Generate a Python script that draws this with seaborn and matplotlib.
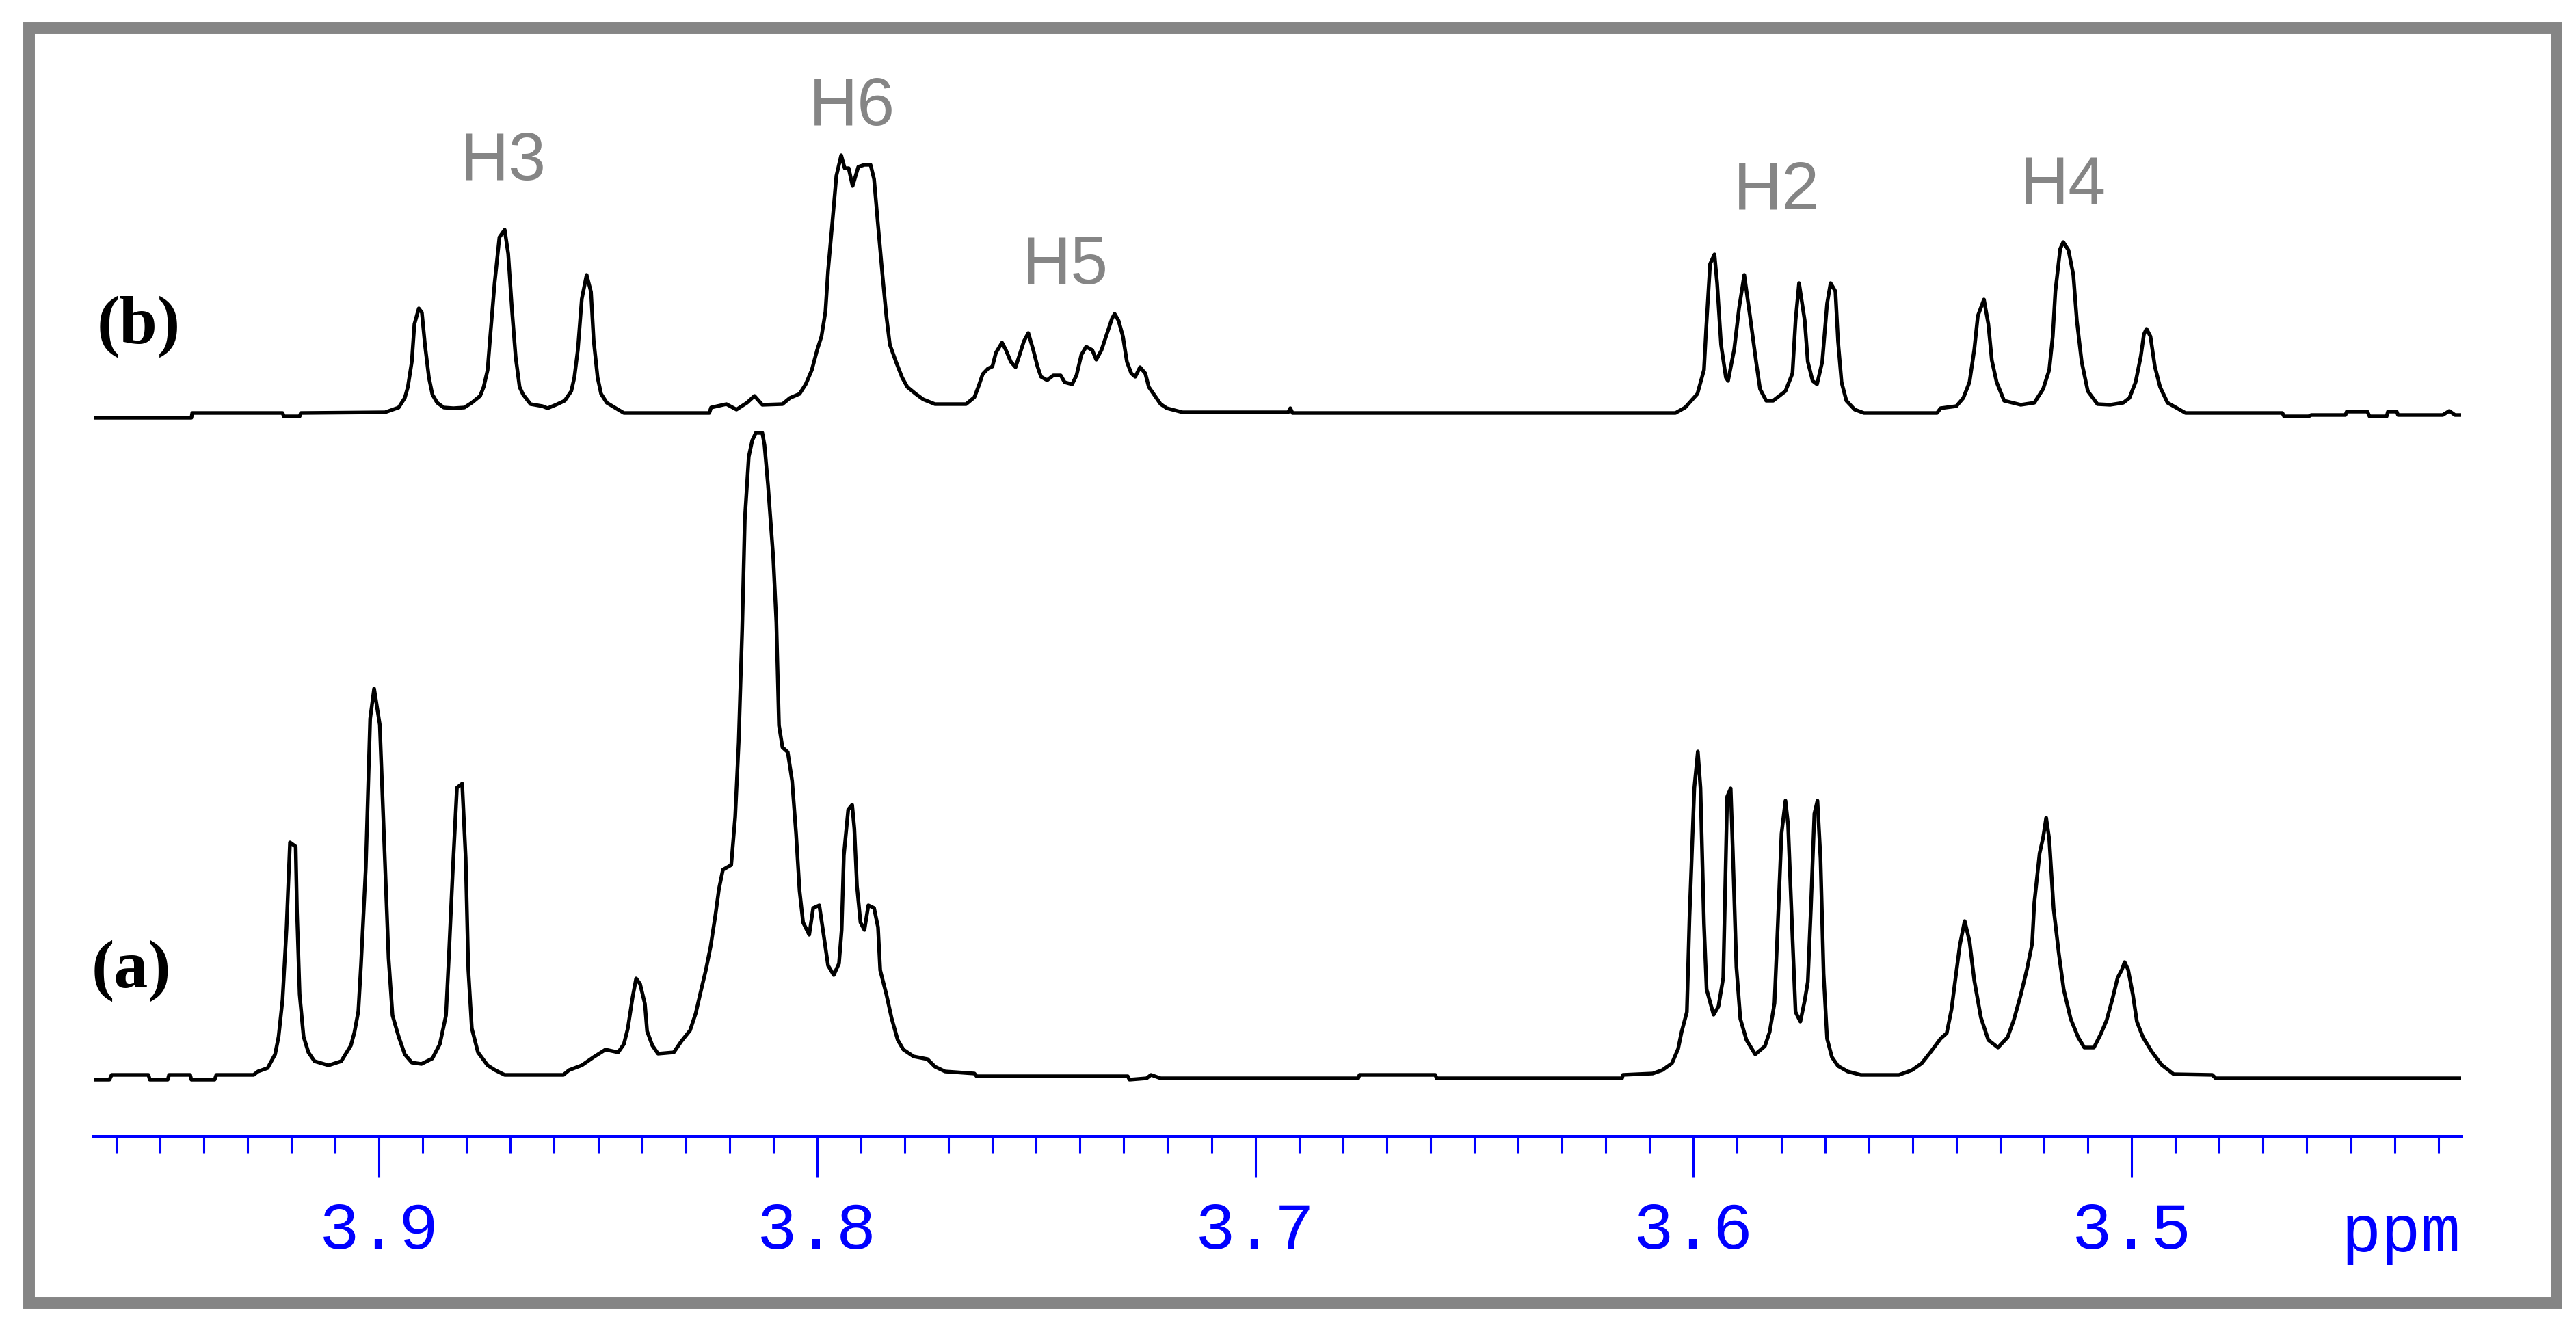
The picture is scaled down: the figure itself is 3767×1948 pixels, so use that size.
import matplotlib
matplotlib.use("Agg")
import matplotlib.pyplot as plt
import seaborn as sns
import pandas as pd
from matplotlib.patches import Rectangle
from matplotlib.ticker import FixedLocator, MultipleLocator

# ---------------- data ----------------
# trace (a), bottom spectrum: chemical shift (ppm) and intensity (arb. units)
ppm_a = [3.9651, 3.9615, 3.9610, 3.9526, 3.9523, 3.9482, 3.9479, 3.9431, 3.9428, 3.9375,
         3.9371, 3.9286, 3.9276, 3.9254, 3.9237, 3.9229, 3.9220, 3.9211, 3.9203, 3.9190,
         3.9187, 3.9181, 3.9172, 3.9161, 3.9147, 3.9115, 3.9086, 3.9064, 3.9056, 3.9047,
         3.9041, 3.9030, 3.9020, 3.9011, 3.8998, 3.8988, 3.8978, 3.8969, 3.8955, 3.8941,
         3.8925, 3.8903, 3.8878, 3.8861, 3.8847, 3.8841, 3.8831, 3.8822, 3.8810, 3.8802,
         3.8796, 3.8788, 3.8774, 3.8752, 3.8735, 3.8713, 3.8579, 3.8566, 3.8537, 3.8510,
         3.8483, 3.8454, 3.8441, 3.8432, 3.8421, 3.8413, 3.8404, 3.8393, 3.8388, 3.8376,
         3.8363, 3.8327, 3.8310, 3.8290, 3.8277, 3.8267, 3.8254, 3.8243, 3.8232, 3.8224,
         3.8215, 3.8196, 3.8187, 3.8179, 3.8171, 3.8165, 3.8156, 3.8148, 3.8140, 3.8125,
         3.8120, 3.8112, 3.8100, 3.8093, 3.8087, 3.8079, 3.8067, 3.8057, 3.8048, 3.8040,
         3.8032, 3.8018, 3.8009, 3.7995, 3.7986, 3.7975, 3.7962, 3.7950, 3.7944, 3.7939,
         3.7929, 3.7920, 3.7915, 3.7909, 3.7901, 3.7892, 3.7883, 3.7870, 3.7861, 3.7856,
         3.7842, 3.7830, 3.7816, 3.7803, 3.7780, 3.7748, 3.7731, 3.7708, 3.7641, 3.7636,
         3.7291, 3.7287, 3.7248, 3.7238, 3.7216, 3.6765, 3.6762, 3.6589, 3.6586, 3.6163,
         3.6161, 3.6093, 3.6071, 3.6049, 3.6035, 3.6027, 3.6015, 3.6009, 3.5998, 3.5990,
         3.5984, 3.5976, 3.5970, 3.5954, 3.5943, 3.5932, 3.5927, 3.5923, 3.5915, 3.5910,
         3.5902, 3.5893, 3.5879, 3.5859, 3.5837, 3.5826, 3.5815, 3.5809, 3.5799, 3.5790,
         3.5784, 3.5774, 3.5767, 3.5756, 3.5746, 3.5739, 3.5732, 3.5724, 3.5717, 3.5710,
         3.5703, 3.5695, 3.5684, 3.5670, 3.5648, 3.5618, 3.5531, 3.5501, 3.5479, 3.5458,
         3.5436, 3.5422, 3.5411, 3.5403, 3.5392, 3.5381, 3.5370, 3.5359, 3.5344, 3.5327,
         3.5305, 3.5283, 3.5269, 3.5253, 3.5239, 3.5227, 3.5222, 3.5210, 3.5202, 3.5195,
         3.5188, 3.5178, 3.5166, 3.5155, 3.5139, 3.5122, 3.5108, 3.5086, 3.5071, 3.5057,
         3.5043, 3.5032, 3.5022, 3.5016, 3.5008, 3.4997, 3.4988, 3.4974, 3.4954, 3.4932,
         3.4904, 3.4816, 3.4808, 3.4248]
int_a = [-2, -2, 5, 5, -2, -2, 5, 5, -2, -2,
         5, 5, 10, 15, 35, 61, 115, 218, 345, 339,
         243, 123, 61, 38, 25, 19, 25, 48, 67, 98,
         165, 308, 526, 570, 517, 346, 176, 92, 61, 35,
         23, 21, 29, 50, 92, 170, 310, 425, 431, 322,
         159, 73, 38, 19, 12, 5, 5, 12, 19, 31,
         42, 38, 50, 73, 119, 146, 138, 109, 69, 48,
         36, 38, 54, 70, 95, 123, 158, 193, 239, 277,
         305, 312, 382, 491, 656, 817, 909, 933, 944, 944,
         926, 867, 761, 667, 516, 484, 477, 435, 358, 274,
         228, 210, 249, 253, 214, 165, 151, 168, 217, 326,
         393, 400, 365, 281, 228, 217, 253, 249, 221, 158,
         123, 88, 56, 42, 32, 28, 17, 10, 7, 3,
         3, -2, 0, 5, 0, 0, 5, 5, 0, 0,
         5, 7, 12, 22, 43, 68, 97, 236, 425, 478,
         425, 226, 130, 93, 105, 147, 292, 412, 424, 329,
         163, 87, 56, 35, 47, 68, 110, 201, 358, 406,
         371, 207, 97, 83, 114, 141, 248, 387, 406, 321,
         153, 58, 31, 18, 10, 5, 5, 12, 22, 39,
         58, 66, 101, 141, 195, 230, 201, 143, 89, 56,
         45, 60, 85, 122, 159, 197, 257, 329, 352, 381,
         350, 248, 182, 130, 87, 60, 45, 45, 64, 85,
         118, 147, 159, 170, 159, 122, 83, 60, 39, 20,
         6, 5, 0, 0]

# trace (b), top spectrum
ppm_b = [3.9651, 3.9428, 3.9426, 3.9220, 3.9217, 3.9181, 3.9178, 3.8986, 3.8955, 3.8941,
         3.8934, 3.8925, 3.8919, 3.8909, 3.8902, 3.8895, 3.8886, 3.8878, 3.8867, 3.8852,
         3.8830, 3.8805, 3.8788, 3.8769, 3.8761, 3.8752, 3.8746, 3.8736, 3.8725, 3.8713,
         3.8705, 3.8696, 3.8688, 3.8679, 3.8671, 3.8654, 3.8627, 3.8615, 3.8596, 3.8576,
         3.8561, 3.8554, 3.8546, 3.8537, 3.8526, 3.8516, 3.8510, 3.8501, 3.8493, 3.8480,
         3.8462, 3.8441, 3.8246, 3.8242, 3.8207, 3.8184, 3.8160, 3.8143, 3.8125, 3.8079,
         3.8062, 3.8040, 3.8026, 3.8012, 3.8000, 3.7990, 3.7981, 3.7975, 3.7965, 3.7956,
         3.7945, 3.7937, 3.7928, 3.7919, 3.7906, 3.7892, 3.7878, 3.7870, 3.7861, 3.7851,
         3.7842, 3.7834, 3.7820, 3.7806, 3.7794, 3.7775, 3.7758, 3.7731, 3.7660, 3.7641,
         3.7631, 3.7622, 3.7610, 3.7600, 3.7592, 3.7578, 3.7569, 3.7558, 3.7547, 3.7538,
         3.7528, 3.7518, 3.7507, 3.7497, 3.7489, 3.7475, 3.7461, 3.7444, 3.7435, 3.7418,
         3.7408, 3.7397, 3.7386, 3.7372, 3.7363, 3.7351, 3.7338, 3.7327, 3.7321, 3.7312,
         3.7302, 3.7293, 3.7283, 3.7274, 3.7263, 3.7251, 3.7243, 3.7229, 3.7216, 3.7202,
         3.7166, 3.6925, 3.6920, 3.6915, 3.6041, 3.6019, 3.5991, 3.5976, 3.5971, 3.5962,
         3.5952, 3.5946, 3.5937, 3.5926, 3.5921, 3.5907, 3.5896, 3.5884, 3.5871, 3.5857,
         3.5848, 3.5834, 3.5818, 3.5790, 3.5774, 3.5767, 3.5759, 3.5746, 3.5739, 3.5728,
         3.5718, 3.5706, 3.5695, 3.5687, 3.5676, 3.5670, 3.5662, 3.5651, 3.5632, 3.5611,
         3.5444, 3.5436, 3.5400, 3.5384, 3.5370, 3.5359, 3.5351, 3.5337, 3.5327, 3.5319,
         3.5308, 3.5291, 3.5253, 3.5222, 3.5202, 3.5188, 3.5180, 3.5174, 3.5163, 3.5156,
         3.5144, 3.5133, 3.5125, 3.5114, 3.5100, 3.5078, 3.5049, 3.5019, 3.5005, 3.4991,
         3.4979, 3.4972, 3.4966, 3.4957, 3.4947, 3.4935, 3.4918, 3.4896, 3.4877, 3.4656,
         3.4652, 3.4596, 3.4590, 3.4512, 3.4509, 3.4462, 3.4457, 3.4418, 3.4415, 3.4395,
         3.4392, 3.4290, 3.4275, 3.4262, 3.4248]
int_b = [-4, -4, 3, 3, -2, -2, 3, 4, 11, 25,
         41, 78, 133, 156, 150, 103, 55, 30, 18, 11,
         10, 11, 18, 28, 41, 66, 115, 193, 260, 271,
         236, 151, 85, 41, 30, 16, 13, 10, 15, 21,
         35, 55, 96, 170, 205, 180, 110, 55, 31, 18,
         11, 3, 3, 11, 16, 8, 18, 28, 15, 16,
         25, 31, 45, 66, 95, 115, 151, 211, 283, 350,
         380, 361, 361, 335, 363, 366, 366, 345, 278, 206,
         145, 103, 78, 55, 41, 31, 23, 16, 16, 26,
         43, 60, 68, 71, 91, 106, 95, 78, 70, 88,
         108, 120, 96, 71, 56, 51, 58, 58, 48, 45,
         58, 88, 100, 95, 81, 95, 120, 141, 148, 138,
         115, 78, 61, 56, 70, 61, 41, 28, 16, 10,
         4, 4, 10, 3, 3, 11, 31, 66, 126, 221,
         235, 193, 103, 55, 50, 96, 156, 205, 145, 78,
         38, 21, 21, 35, 61, 138, 193, 138, 78, 50,
         45, 78, 163, 193, 181, 108, 48, 21, 8, 3,
         3, 10, 13, 25, 48, 96, 145, 169, 133, 80,
         48, 21, 15, 18, 38, 66, 115, 181, 243, 253,
         241, 205, 138, 78, 35, 16, 15, 18, 25, 48,
         86, 118, 126, 115, 71, 41, 18, 10, 3, 3,
         -2, -2, 0, 0, 5, 5, -2, -2, 5, 5,
         0, 0, 6, 0, 0]

major_ticks = [3.9, 3.8, 3.7, 3.6, 3.5]
tick_labels = ["3.9", "3.8", "3.7", "3.6", "3.5"]
peak_labels = ["H3", "H6", "H5", "H2", "H4"]
peak_label_ppm = [3.8716, 3.7920, 3.7433, 3.5810, 3.5156]
peak_label_y = [1315, 1395, 1163, 1272, 1279]
trace_labels = ["(a)", "(b)"]
trace_label_ppm = [3.9565, 3.9549]
trace_label_y = [134, 1076]

# ---------------- styling / layout ----------------
sns.set_theme(style="white")
plt.rcParams["font.family"] = ["Liberation Sans", "DejaVu Sans"]

W, H = 3767, 1949
fig = plt.figure(figsize=(W / 100, H / 100), dpi=100)
fig.patch.set_facecolor("white")
ax = fig.add_axes([137 / W, (H - 1663) / H, (3599 - 137) / W, (1663 - 40) / H])
ax.set_facecolor("white")

offset_b = 970
df_a = pd.DataFrame({"ppm": ppm_a, "intensity": int_a})
df_b = pd.DataFrame({"ppm": ppm_b, "intensity": [v + offset_b for v in int_b]})

sns.lineplot(data=df_a, x="ppm", y="intensity", estimator=None, sort=False,
             color="black", linewidth=3.9, ax=ax)
sns.lineplot(data=df_b, x="ppm", y="intensity", estimator=None, sort=False,
             color="black", linewidth=3.9, ax=ax)

ax.set_xlim(3.9651, 3.4248)
ax.set_ylim(-85, 1538)
ax.set_xlabel("")
ax.set_ylabel("")
ax.set_yticks([])
for s in ["left", "right", "top"]:
    ax.spines[s].set_visible(False)
ax.spines["bottom"].set_color("#0000ff")
ax.spines["bottom"].set_linewidth(3.6)

blue = "#0000ff"
ax.xaxis.set_major_locator(FixedLocator(major_ticks))
ax.set_xticklabels(tick_labels)
ax.xaxis.set_minor_locator(MultipleLocator(0.01))
ax.tick_params(axis="x", which="major", direction="out", length=43, width=2.2,
               color=blue, pad=24, labelsize=70, labelcolor=blue, bottom=True)
ax.tick_params(axis="x", which="minor", direction="out", length=17, width=2.2,
               color=blue, bottom=True)
for lab in ax.get_xticklabels():
    lab.set_fontfamily(["Liberation Mono", "DejaVu Sans Mono"])

ax.text(3.4248, -252, "ppm", ha="right", va="baseline", color=blue, fontsize=70,
        family=["Liberation Mono", "DejaVu Sans Mono"], clip_on=False)

for lab, px, py in zip(peak_labels, peak_label_ppm, peak_label_y):
    ax.text(px, py, lab, ha="center", va="baseline", color="#858585", fontsize=71,
            family=["Liberation Sans", "DejaVu Sans"])

for lab, px, py in zip(trace_labels, trace_label_ppm, trace_label_y):
    ax.text(px, py, lab, ha="center", va="baseline", color="black", fontsize=72,
            fontweight="bold", family=["Liberation Serif", "DejaVu Serif"])

fig.add_artist(Rectangle((42 / W, 43 / H), (3738 - 42) / W, (1906 - 41) / H,
                         transform=fig.transFigure, fill=False,
                         edgecolor="#858585", linewidth=12.2))

fig.savefig("out.png", dpi=100, facecolor="white")
